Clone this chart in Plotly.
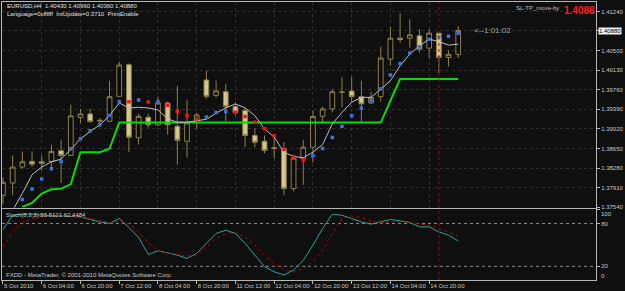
import plotly.graph_objects as go

# ---------------- data (EURUSD H4, bars indexed 0..47) ----------------
bars = list(range(48))
opens = [1.37766, 1.37998, 1.38299, 1.38406, 1.38400, 1.38406, 1.38608, 1.38519, 1.39235, 1.39304,
         1.39184, 1.39165, 1.39636, 1.40233, 1.38852, 1.39240, 1.39097, 1.39511, 1.39071, 1.38788,
         1.39178, 1.39945, 1.39655, 1.39724, 1.39442, 1.39366, 1.38896, 1.38788, 1.38664, 1.38645,
         1.37892, 1.38457, 1.38675, 1.39259, 1.39398, 1.39719, 1.39737, 1.39630, 1.39511, 1.39630,
         1.40340, 1.40735, 1.40735, 1.40779, 1.40547, 1.40830, 1.40370, 1.40430]
highs = [1.38105, 1.38519, 1.38594, 1.38594, 1.38519, 1.38726, 1.38815, 1.39479, 1.39398, 1.39398,
         1.39229, 1.39931, 1.40289, 1.40257, 1.39304, 1.39304, 1.39630, 1.39536, 1.39837, 1.39574,
         1.39323, 1.40120, 1.39931, 1.39869, 1.39523, 1.39417, 1.39033, 1.38896, 1.38896, 1.38770,
         1.38519, 1.38815, 1.39366, 1.39442, 1.39775, 1.39997, 1.40007, 1.39931, 1.39724, 1.40572,
         1.40948, 1.41206, 1.41093, 1.40905, 1.40905, 1.40860, 1.40509, 1.40960]
lows = [1.37596, 1.37766, 1.38274, 1.38299, 1.38237, 1.38274, 1.37998, 1.38510, 1.39135, 1.39146,
        1.39052, 1.39160, 1.39630, 1.38581, 1.38726, 1.39041, 1.39071, 1.38915, 1.38344, 1.38476,
        1.39022, 1.39587, 1.39617, 1.39165, 1.39272, 1.38675, 1.38675, 1.38562, 1.38457, 1.37766,
        1.37841, 1.37967, 1.38382, 1.39146, 1.39334, 1.39429, 1.39523, 1.39146, 1.39493, 1.39536,
        1.40214, 1.40653, 1.40558, 1.40464, 1.40359, 1.40069, 1.40201, 1.40360]
closes = [1.38011, 1.38299, 1.38400, 1.38355, 1.38368, 1.38594, 1.38519, 1.39267, 1.39304, 1.39159,
          1.39172, 1.39630, 1.40227, 1.38864, 1.39259, 1.39097, 1.39511, 1.39097, 1.38802, 1.39135,
          1.39285, 1.39636, 1.39737, 1.39442, 1.39329, 1.38896, 1.38770, 1.38613, 1.38651, 1.37892,
          1.38468, 1.38675, 1.39254, 1.39398, 1.39724, 1.39711, 1.39630, 1.39493, 1.39617, 1.40359,
          1.40735, 1.40709, 1.40798, 1.40528, 1.40830, 1.40370, 1.40430, 1.40880]

ma_bars = list(range(1, 48))
ma_line = [1.37483, 1.37803, 1.38156, 1.38299, 1.38400, 1.38449, 1.38632, 1.38834, 1.38971, 1.39097,
           1.39272, 1.39513, 1.39417, 1.39429, 1.39417, 1.39380, 1.39210, 1.39146, 1.39146, 1.39178,
           1.39203, 1.39316, 1.39417, 1.39493, 1.39417, 1.39272, 1.39022, 1.38864, 1.38581, 1.38500,
           1.38476, 1.38581, 1.38726, 1.39116, 1.39334, 1.39523, 1.39617, 1.39617, 1.39775, 1.39931,
           1.40214, 1.40434, 1.40590, 1.40717, 1.40671, 1.40604, 1.40622]

dot_bars = list(range(2, 48))
dot_vals = [1.37685, 1.37885, 1.38073, 1.38269, 1.38406, 1.38645, 1.38834, 1.38984, 1.39097, 1.39272,
            1.39536, 1.39536, 1.39568, 1.39530, 1.39536, 1.39466, 1.39348, 1.39272, 1.39210, 1.39248,
            1.39329, 1.39348, 1.39334, 1.39254, 1.39146, 1.39022, 1.38890, 1.38638, 1.38500, 1.38438,
            1.38513, 1.38651, 1.38858, 1.39071, 1.39267, 1.39417, 1.39555, 1.39775, 1.40039, 1.40257,
            1.40453, 1.40572, 1.40717, 1.40760, 1.40773, 1.40830]
dot_trend = ["up"] * 11 + ["dn", "up", "dn", "up", "dn", "dn", "dn", "dn", "up", "up", "up",
             "dn", "dn", "dn", "dn", "dn", "dn", "dn", "dn"] + ["up"] * 16

stop_bars = list(range(2, 48))
stop_vals = [1.37546, 1.37621, 1.37798, 1.37879, 1.37892, 1.37973, 1.38581, 1.38581, 1.38581, 1.38645] \
    + [1.39141] * 28 + [1.39555] + [1.39965] * 7

stoch_main = [71.6, 91.5, 93.0, 93.0, 91.5, 91.5, 90.6, 90.0, 89.2, 85.5,
              82.2, 80.0, 86.9, 74.4, 60.4, 36.7, 41.7, 38.9, 35.7, 31.1,
              38.1, 52.0, 66.0, 70.6, 66.0, 52.0, 35.7, 19.4, 12.4, 7.8,
              14.8, 28.2, 49.7, 73.0, 92.9, 91.5, 86.9, 82.2, 79.0, 81.8,
              85.5, 83.6, 81.3, 75.2, 75.2, 68.2, 63.6, 55.5]
stoch_signal = [47.3, 68.2, 80.8, 86.9, 90.1, 91.0, 91.0, 90.6, 89.2, 86.9,
                84.6, 80.8, 83.2, 80.0, 68.2, 52.9, 41.7, 38.1, 36.7, 34.3,
                35.7, 47.3, 59.0, 66.0, 66.8, 61.3, 49.7, 35.7, 24.1, 14.8,
                12.4, 17.2, 26.4, 42.7, 66.0, 86.9, 90.6, 88.3, 83.6, 80.8,
                82.2, 82.5, 81.3, 79.0, 77.6, 73.0, 68.2, 62.4]

time_tick_bars = [0, 4, 8, 12, 16, 20, 24, 28, 32, 36, 40, 44]
time_tick_labels = ["5 Oct 2010", "6 Oct 04:00", "6 Oct 20:00", "7 Oct 12:00", "8 Oct 04:00",
                    "8 Oct 20:00", "11 Oct 12:00", "12 Oct 04:00", "12 Oct 20:00", "13 Oct 12:00",
                    "14 Oct 04:00", "14 Oct 20:00"]
price_ticks = [1.37540, 1.37910, 1.38280, 1.38650, 1.39020, 1.39390, 1.39760, 1.40130, 1.40500,
               1.40880, 1.41240]
price_tick_labels = ["1.37540", "1.37910", "1.38280", "1.38650", "1.39020", "1.39390", "1.39760",
                     "1.40130", "1.40500", "", "1.41240"]
stoch_ticks = [0, 20, 80, 100]
stoch_tick_labels = ["", "20", "80", ""]
stoch_edge_labels = ["100", "0"]
stoch_levels = [20, 80]
cursor_bar = 45
last_price = 1.40880

# ---------------- layout geometry ----------------
W, H = 625, 291
ML, MR, MT, MB = 1, 23, 1, 11
plot_h = H - MT - MB


def fy(ypix):  # pixel row -> paper fraction
    return (H - MB - ypix) / plot_h


def fx(xpix):
    return (xpix - ML) / (W - ML - MR)


BG = "#0f0f0f"
FRAME = "#b8b8b8"
TXT = "#c8c8c8"
FONT = "Liberation Sans"
CANDLE_LINE = "#8e7f4c"
BEAR_FILL = "#d6c88c"

fig = go.Figure()

fig.add_trace(go.Candlestick(
    x=bars, open=opens, high=highs, low=lows, close=closes,
    xaxis="x", yaxis="y",
    increasing=dict(line=dict(color=CANDLE_LINE, width=1), fillcolor="#0c0c0c"),
    decreasing=dict(line=dict(color=CANDLE_LINE, width=1), fillcolor=BEAR_FILL),
    whiskerwidth=0, showlegend=False, hoverinfo="skip"))

fig.add_trace(go.Scatter(x=stop_bars, y=stop_vals, mode="lines", xaxis="x", yaxis="y",
                         line=dict(color="#00e000", width=2), showlegend=False, hoverinfo="skip"))

fig.add_trace(go.Scatter(x=ma_bars, y=ma_line, mode="lines", xaxis="x", yaxis="y",
                         line=dict(color="#bdbdbd", width=1), showlegend=False, hoverinfo="skip"))

fig.add_trace(go.Scatter(x=dot_bars, y=dot_vals, mode="markers", xaxis="x", yaxis="y",
                         marker=dict(symbol="square", size=3.5,
                                     color=["#3f6fe0" if t == "up" else "#ff1010" for t in dot_trend],
                                     line=dict(width=0)),
                         showlegend=False, hoverinfo="skip"))

fig.add_trace(go.Scatter(x=bars, y=stoch_main, mode="lines", xaxis="x2", yaxis="y2",
                         line=dict(color="#20a8a0", width=1), showlegend=False, hoverinfo="skip"))
fig.add_trace(go.Scatter(x=bars, y=stoch_signal, mode="lines", xaxis="x2", yaxis="y2",
                         line=dict(color="#c00000", width=1, dash="dot"), showlegend=False,
                         hoverinfo="skip"))

x_range = [(ML - 2) / 9.8, (W - MR - 2) / 9.8]
price_top = 1.41240 + (10.5 - MT) * 0.0001883
price_bot = 1.41240 - (207.5 - 10.5) * 0.0001883

axis_common = dict(showline=True, mirror=True, linecolor=FRAME, linewidth=1, zeroline=False)

fig.update_layout(
    width=W, height=H, autosize=False,
    margin=dict(l=ML, r=MR, t=MT, b=MB, pad=0),
    paper_bgcolor=BG, plot_bgcolor=BG,
    font=dict(family=FONT, size=6, color=TXT),
    xaxis=dict(domain=[0, 1], anchor="y", range=x_range, tickvals=time_tick_bars,
               showticklabels=False, ticks="", showgrid=True, gridcolor="#2e2e2e",
               griddash="dot", gridwidth=1, rangeslider=dict(visible=False), **axis_common),
    yaxis=dict(domain=[fy(207.5), 1], anchor="x", range=[price_bot, price_top], side="right",
               tickvals=price_ticks, ticktext=price_tick_labels, ticks="outside", ticklen=3,
               tickcolor=FRAME, tickfont=dict(size=6, color=TXT, family=FONT),
               showgrid=True, gridcolor="#2e2e2e", griddash="dot", gridwidth=1, **axis_common),
    xaxis2=dict(domain=[0, 1], anchor="y2", range=x_range, tickvals=time_tick_bars,
                ticktext=time_tick_labels, ticks="outside", ticklen=3, tickcolor=FRAME,
                ticklabelposition="outside right", tickangle=0,
                tickfont=dict(size=6, color=TXT, family=FONT), showgrid=False,
                rangeslider=dict(visible=False), **axis_common),
    yaxis2=dict(domain=[0, fy(208.5)], anchor="x2", range=[0.8, 100.6], side="right",
                tickvals=stoch_ticks, ticktext=stoch_tick_labels, ticks="outside", ticklen=3,
                tickcolor=FRAME, tickfont=dict(size=6, color=TXT, family=FONT), showgrid=False,
                **axis_common),
)

shapes = []
for lv in stoch_levels:
    shapes.append(dict(type="line", xref="x2 domain", yref="y2", x0=0, x1=1, y0=lv, y1=lv,
                       line=dict(color="#8a8a8a", width=1, dash="dot"), layer="below"))
shapes.append(dict(type="line", xref="x", yref="paper", x0=cursor_bar, x1=cursor_bar, y0=0, y1=1,
                   line=dict(color="#b00000", width=1, dash="dot")))
fig.update_layout(shapes=shapes)

ann = []
ann.append(dict(text="EURUSD,H4  1.40430 1.40960 1.40360 1.40880", x=fx(4), y=fy(5),
                xref="paper", yref="paper", xanchor="left", yanchor="middle", showarrow=False,
                font=dict(size=6, color="#e0e0e0")))
ann.append(dict(text="Language=0xffffff  IntUpdate=0.3710  PrintEnable", x=fx(4), y=fy(13),
                xref="paper", yref="paper", xanchor="left", yanchor="middle", showarrow=False,
                font=dict(size=6, color="#e0e0e0")))
ann.append(dict(text="SL-TP_move-by", x=fx(520), y=fy(7), xref="paper", yref="paper",
                xanchor="left", yanchor="middle", showarrow=False, borderpad=0,
                font=dict(size=6, color="#c0c0c0")))
ann.append(dict(text="<b>1.4088</b>", x=fx(602), y=fy(10), xref="paper", yref="paper",
                xanchor="right", yanchor="middle", showarrow=False, borderpad=0,
                font=dict(size=10, color="#ff1a1a")))
ann.append(dict(text="<--1:01:02", x=fx(477), y=fy(30), xref="paper", yref="paper",
                xanchor="left", yanchor="middle", showarrow=False,
                font=dict(size=8, color="#a8a8a8")))
ann.append(dict(text="1.40880", x=1, y=last_price, xref="paper", yref="y", xanchor="left",
                yanchor="middle", xshift=2, showarrow=False, bgcolor="#f0f0f0",
                font=dict(size=6, color="#000000"), borderpad=0))
ann.append(dict(text=stoch_edge_labels[0], x=1, y=fy(213.5), xref="paper", yref="paper",
                xanchor="left", yanchor="middle", xshift=3, showarrow=False,
                font=dict(size=6, color=TXT)))
ann.append(dict(text=stoch_edge_labels[1], x=1, y=fy(276), xref="paper", yref="paper",
                xanchor="left", yanchor="middle", xshift=3, showarrow=False,
                font=dict(size=6, color=TXT)))
ann.append(dict(text="Stoch(8,3,3) 55.5121 62.4484", x=fx(3), y=fy(215), xref="paper",
                yref="paper", xanchor="left", yanchor="middle", showarrow=False,
                font=dict(size=6, color="#c8c8c8")))
ann.append(dict(text="FXDD - MetaTrader, © 2001-2010 MetaQuotes Software Corp.", x=fx(3),
                y=fy(275), xref="paper", yref="paper", xanchor="left", yanchor="middle",
                showarrow=False, font=dict(size=6, color="#c8c8c8")))
fig.update_layout(annotations=ann)

fig.write_html("out.html")
